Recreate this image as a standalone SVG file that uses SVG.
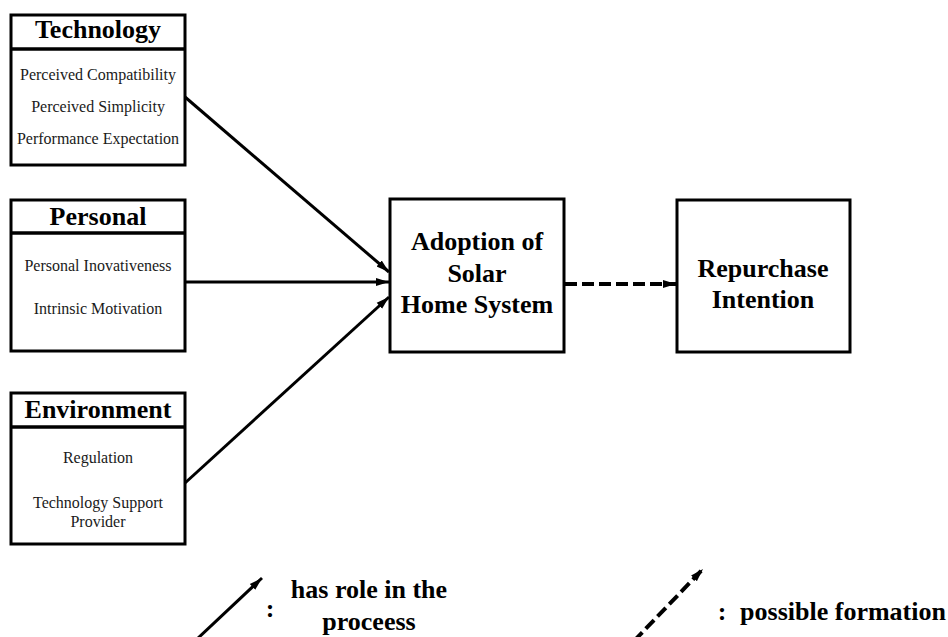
<svg xmlns="http://www.w3.org/2000/svg" width="948" height="637" viewBox="0 0 948 637">
  <style>
    .box { fill: #fff; stroke: #000; stroke-width: 3; }
    .div { stroke: #000; stroke-width: 3.5; }
    .title { font-family: "Liberation Serif", "Times New Roman", serif; font-weight: bold; font-size: 26px; fill: #000; text-anchor: middle; }
    .item { font-family: "Liberation Serif", "Times New Roman", serif; font-size: 16px; fill: #1a1a1a; text-anchor: middle; }
    .conn { stroke: #000; stroke-width: 3; fill: none; }
    .dash { stroke: #000; stroke-width: 4; fill: none; stroke-dasharray: 12 5; }
  </style>
  <defs>
    <marker id="arrow" markerUnits="userSpaceOnUse" markerWidth="14" markerHeight="10" refX="13" refY="5" orient="auto">
      <path d="M0,1 L13,5 L0,9 Z" fill="#000"/>
    </marker>
  </defs>
  <rect width="948" height="637" fill="#fff"/>

  <!-- Technology factors -->
  <g id="technology">
    <rect class="box" x="11" y="15" width="174" height="150"/>
    <line class="div" x1="11" y1="49" x2="185" y2="49"/>
    <text class="title" x="98" y="38">Technology</text>
    <text class="item" x="98" y="80">Perceived Compatibility</text>
    <text class="item" x="98" y="112">Perceived Simplicity</text>
    <text class="item" x="98" y="144">Performance Expectation</text>
  </g>

  <!-- Personal factors -->
  <g id="personal">
    <rect class="box" x="11" y="200" width="174" height="151"/>
    <line class="div" x1="11" y1="233" x2="185" y2="233"/>
    <text class="title" x="98" y="225">Personal</text>
    <text class="item" x="98" y="271">Personal Inovativeness</text>
    <text class="item" x="98" y="314">Intrinsic Motivation</text>
  </g>

  <!-- Environment factors -->
  <g id="environment">
    <rect class="box" x="11" y="393" width="174" height="151"/>
    <line class="div" x1="11" y1="427" x2="185" y2="427"/>
    <text class="title" x="98" y="418">Environment</text>
    <text class="item" x="98" y="463">Regulation</text>
    <text class="item" x="98" y="508">Technology Support</text>
    <text class="item" x="98" y="527">Provider</text>
  </g>

  <!-- Adoption -->
  <g id="adoption">
    <rect class="box" x="390" y="199" width="174" height="153"/>
    <text class="title" x="477" y="250">Adoption of</text>
    <text class="title" x="477" y="282">Solar</text>
    <text class="title" x="477" y="313">Home System</text>
  </g>

  <!-- Repurchase intention -->
  <g id="repurchase">
    <rect class="box" x="677" y="200" width="173" height="152"/>
    <text class="title" x="763" y="277">Repurchase</text>
    <text class="title" x="763" y="308">Intention</text>
  </g>

  <!-- Connectors -->
  <g id="connectors">
    <line class="conn" x1="185" y1="97" x2="389" y2="272" marker-end="url(#arrow)"/>
    <line class="conn" x1="185" y1="282" x2="389" y2="282" marker-end="url(#arrow)"/>
    <line class="conn" x1="185" y1="483" x2="389" y2="297" marker-end="url(#arrow)"/>
    <line class="dash" x1="565" y1="284" x2="676" y2="284" marker-end="url(#arrow)"/>
  </g>

  <!-- Legend -->
  <g id="legend">
    <line class="conn" x1="196" y1="640" x2="262" y2="578" stroke-width="3.5" marker-end="url(#arrow)"/>
    <text class="title" x="270" y="617">:</text>
    <text class="title" x="369" y="598">has role in the</text>
    <text class="title" x="369" y="630">proceess</text>
    <line class="dash" x1="634" y1="641" x2="703" y2="569" marker-end="url(#arrow)"/>
    <text class="title" x="722" y="620">:</text>
    <text class="title" x="843" y="620">possible formation</text>
  </g>
</svg>
